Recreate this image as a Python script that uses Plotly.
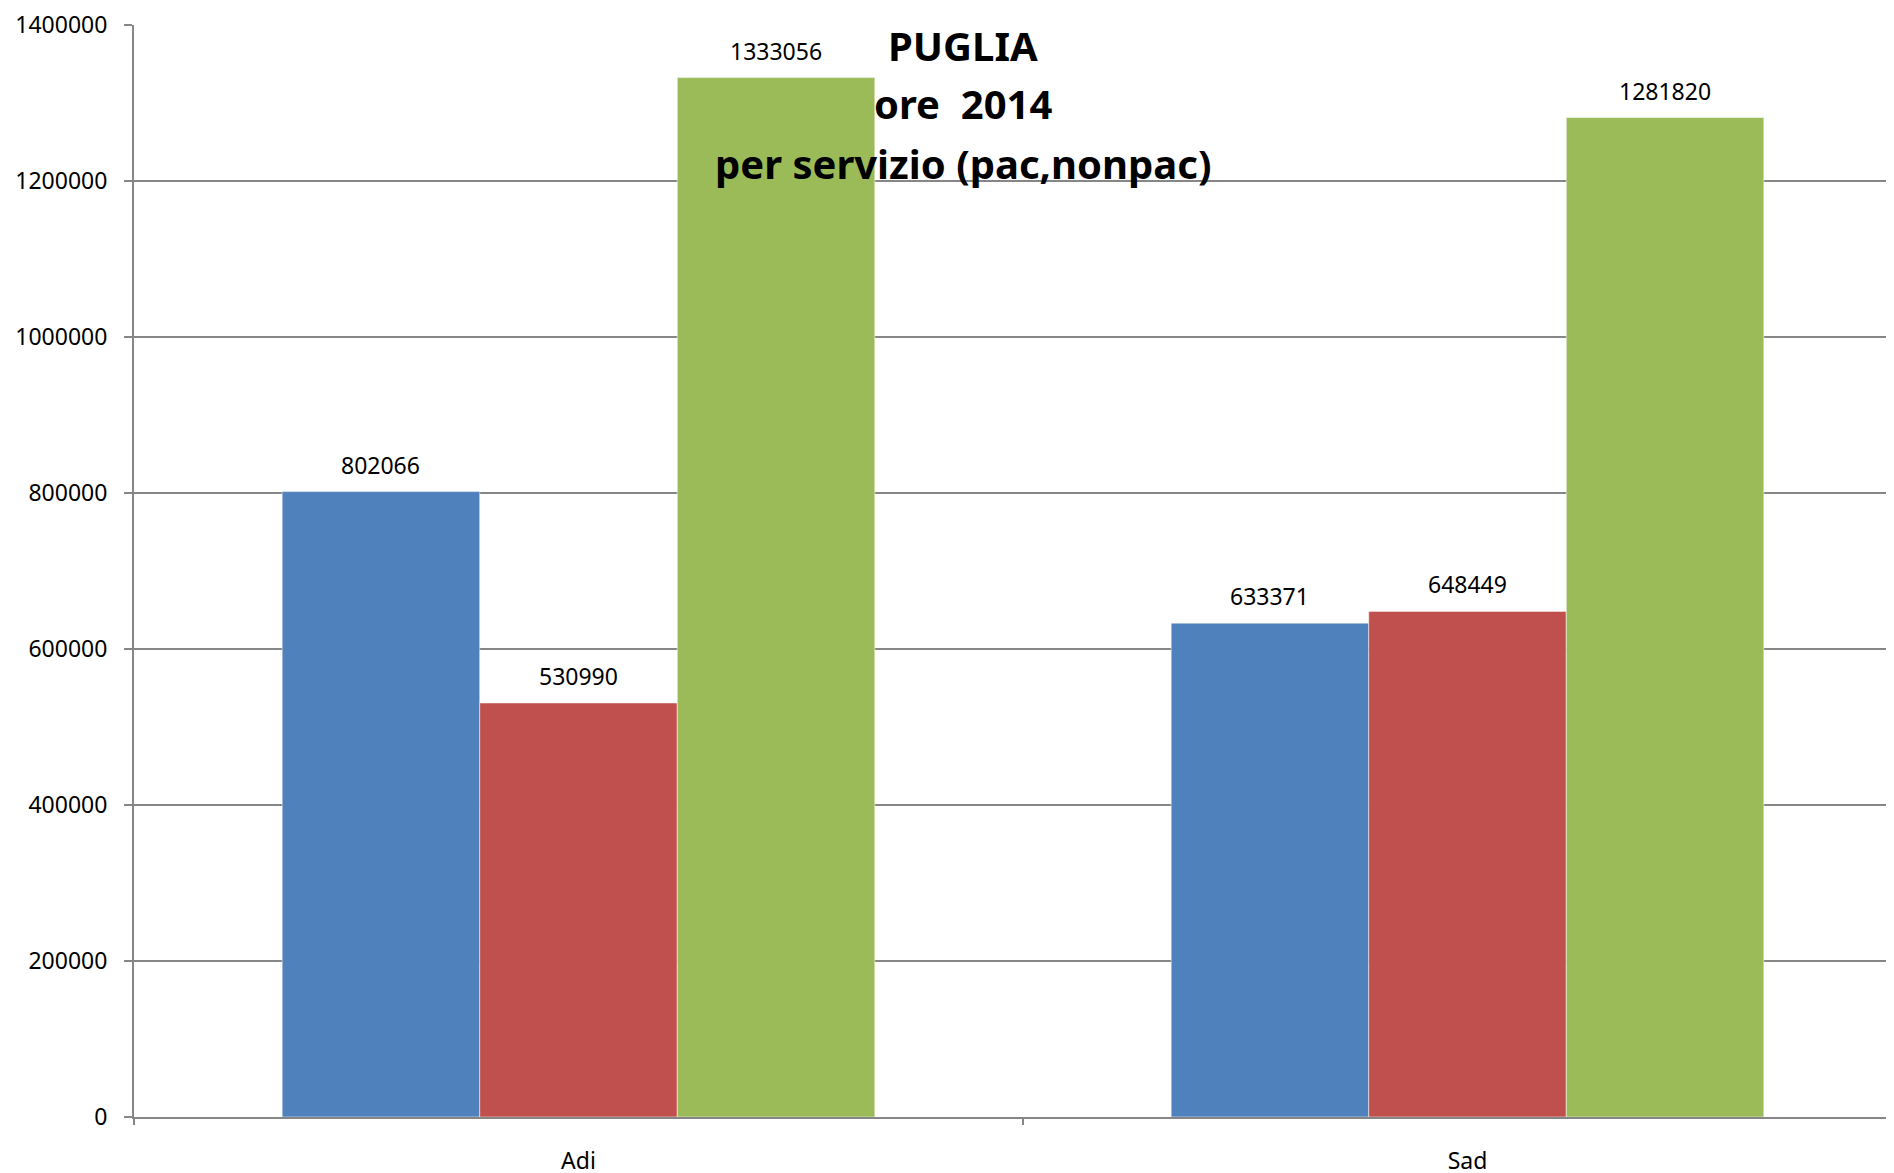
import plotly.graph_objects as go

categories = ["Adi", "Sad"]
serie_a = [802066, 633371]
serie_b = [530990, 648449]
serie_c = [1333056, 1281820]
colori = ["#4F81BD", "#C0504D", "#9BBB59"]
y_ticks = [0, 200000, 400000, 600000, 800000, 1000000, 1200000, 1400000]

bargap = 1 / 3
bar_w = (1 - bargap) / 3

fig = go.Figure()
serie = [serie_a, serie_b, serie_c]
for i, vals in enumerate(serie):
    fig.add_trace(go.Bar(
        x=categories, y=vals,
        marker=dict(color=colori[i], line=dict(color="rgba(255,255,255,0.5)", width=1)),
        showlegend=False,
    ))
    # etichette dati sopra le barre
    for j, v in enumerate(vals):
        fig.add_annotation(
            x=j + (i - 1) * bar_w, y=v, xref="x", yref="y",
            text=str(v), showarrow=False, yanchor="bottom", yshift=9,
            font=dict(family="Noto Sans", size=23, color="black"),
        )

# titolo su tre righe
righe = ["PUGLIA", "ore  2014", "per servizio (pac,nonpac)"]
pos_y = [0.981, 0.928, 0.873]
for testo, yy in zip(righe, pos_y):
    fig.add_annotation(
        x=0.471, y=yy, xref="paper", yref="paper", text="<b>" + testo + "</b>",
        showarrow=False, yanchor="middle",
        font=dict(family="Noto Sans", size=40, color="black"),
    )

fig.update_layout(
    barmode="group", bargap=bargap, bargroupgap=0,
    width=1894, height=1173,
    margin=dict(l=126, r=8, t=17, b=64),
    plot_bgcolor="white", paper_bgcolor="white",
    font=dict(family="Noto Sans", size=23, color="black"),
)
fig.update_xaxes(
    range=[-0.5, 1.5 - 18 / 889], automargin=False,
    showline=True, linecolor="#868686", linewidth=2,
    ticks="outside", tickson="boundaries", ticklen=6, tickcolor="#868686", tickwidth=1.5,
    ticklabelstandoff=22, showgrid=False,
)
fig.update_yaxes(
    range=[0, 1400500], tickvals=y_ticks, tickformat="d", automargin=False,
    ticklabeloverflow="allow",
    showline=True, linecolor="#868686", linewidth=2,
    ticks="outside", ticklen=8, tickcolor="#868686", tickwidth=1.5,
    gridcolor="#868686", gridwidth=1.5, zeroline=False,
    ticklabelstandoff=12,
)

fig.write_html("out.html")
